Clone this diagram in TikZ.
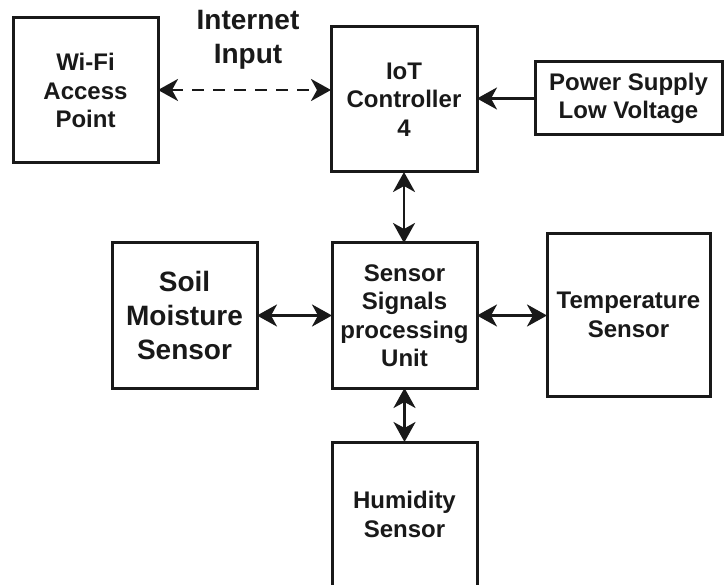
\documentclass[tikz,border=0pt]{standalone}
\usepackage{fontspec}
\setmainfont{Liberation Sans}
\usetikzlibrary{arrows.meta}
\begin{document}
\begin{tikzpicture}[x=1pt,y=-1pt,
  blk/.style={draw=black!90, line width=3pt, fill=white, align=center,
    inner sep=0pt, outer sep=0pt, text=black!90,
    font=\fontsize{24}{28.5}\selectfont\bfseries},
  bigtxt/.style={font=\fontsize{28}{34}\selectfont\bfseries},
  link/.style={line width=2.8pt, draw=black!90, {Stealth[length=20pt,width=22pt,inset=6pt]}-{Stealth[length=20pt,width=22pt,inset=6pt]}},
  feed/.style={line width=2.8pt, draw=black!90, -{Stealth[length=20pt,width=22pt,inset=6pt]}}]
\useasboundingbox (0,0) rectangle (725,585);
\clip (0,0) rectangle (725,585);
\fill[white] (0,0) rectangle (725,585);

% blocks
\node[blk, minimum width=145pt, minimum height=145pt] (wifi) at (85.5,90.5) {Wi-Fi\\Access\\Point};
\node[blk, minimum width=146pt, minimum height=145pt] (iot) at (404,99.5) {IoT\\Controller\\4};
\node[blk, minimum width=187pt, minimum height=73pt] (pwr) at (628.5,98.5) {Power Supply\\Low Voltage};
\node[blk, bigtxt, minimum width=145pt, minimum height=145pt] (soil) at (184.5,315.5) {Soil\\Moisture\\Sensor};
\node[blk, minimum width=145pt, minimum height=145pt] (sspu) at (404.5,315.5) {Sensor\\Signals\\processing\\Unit};
\node[blk, minimum width=163pt, minimum height=162pt] (temp) at (628.5,315) {Temperature\\Sensor};
\node[blk, minimum width=145pt, minimum height=145pt] (hum) at (404.5,514.5) {Humidity\\Sensor};

% label over the wireless link
\node[align=center, bigtxt, text=black!90, inner sep=0pt] (net) at (248,40) {Internet\\Input};

% connectors
\coordinate (iotin) at (iot.west |- 0,90);
\draw[link, dash pattern=on 12pt off 9pt] (wifi.east |- 0,90) -- (iotin);
\draw[feed] (pwr.west) -- (iot.east |- pwr.west);
\draw[link] (iot.south) -- (sspu.north -| iot.south);
\draw[link] (soil.east) -- (sspu.west);
\draw[link] (sspu.east) -- (temp.west |- sspu.east);
\draw[link] (sspu.south) -- (hum.north);
\end{tikzpicture}
\end{document}
